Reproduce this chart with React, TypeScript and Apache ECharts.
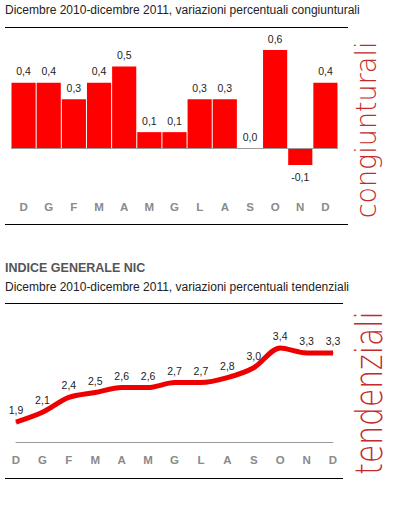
import React, { useEffect, useRef } from 'react';
import * as echarts from 'echarts';

const months = ['D', 'G', 'F', 'M', 'A', 'M', 'G', 'L', 'A', 'S', 'O', 'N', 'D'];
const congiunturali = [0.4, 0.4, 0.3, 0.4, 0.5, 0.1, 0.1, 0.3, 0.3, 0.0, 0.6, -0.1, 0.4];
const tendenziali = [1.9, 2.1, 2.4, 2.5, 2.6, 2.6, 2.7, 2.7, 2.8, 3.0, 3.4, 3.3, 3.3];
const title1 = 'Dicembre 2010-dicembre 2011, variazioni percentuali congiunturali';
const heading2 = 'INDICE GENERALE NIC';
const title2 = 'Dicembre 2010-dicembre 2011, variazioni percentuali tendenziali';
const sideLabel1 = 'congiunturali';
const sideLabel2 = 'tendenziali';

const fmt = (v: number) => v.toFixed(1).replace('.', ',');
const FONT = '"Liberation Sans", Arial, sans-serif';

export default function App() {
  const ref = useRef<HTMLDivElement>(null);
  useEffect(() => {
    document.body.style.margin = '0';
    const chart = echarts.init(ref.current!, null, { renderer: 'svg' });
    const hline = (y: number, x2: number) => ({
      type: 'line',
      shape: { x1: 5, y1: y, x2, y2: y },
      style: { stroke: '#000', lineWidth: 1 },
      silent: true,
    });
    const monthLabel = {
      color: '#8a8a8a',
      fontFamily: FONT,
      fontWeight: 'bold',
      fontSize: 11.5,
    };
    chart.setOption({
      animation: false,
      backgroundColor: '#fff',
      grid: [
        { left: 11, top: 50, width: 327, height: 115 },
        { left: 16, top: 343, width: 317, height: 99 },
      ],
      xAxis: [
        {
          gridIndex: 0,
          type: 'category',
          data: months,
          axisLine: { show: false },
          axisTick: { show: false },
          axisLabel: { ...monthLabel, margin: 36 },
        },
        {
          gridIndex: 1,
          type: 'category',
          data: months,
          boundaryGap: false,
          axisLine: { show: true, lineStyle: { color: '#9a9a9a', width: 1 } },
          axisTick: { show: false },
          axisLabel: { ...monthLabel, margin: 12 },
        },
      ],
      yAxis: [
        { gridIndex: 0, type: 'value', min: -0.1, max: 0.6, show: false, splitLine: { show: false } },
        { gridIndex: 1, type: 'value', min: 1.5, max: 3.5, show: false, splitLine: { show: false } },
      ],
      series: [
        {
          type: 'bar',
          xAxisIndex: 0,
          yAxisIndex: 0,
          barCategoryGap: '4%',
          itemStyle: { color: '#ff0000' },
          data: congiunturali.map((v) =>
            v < 0 ? { value: v, label: { position: 'bottom' } } : v
          ),
          label: {
            show: true,
            position: 'top',
            distance: 6,
            color: '#222',
            fontFamily: FONT,
            fontSize: 10.5,
            formatter: (p: any) => fmt(p.value),
          },
          markLine: {
            silent: true,
            symbol: 'none',
            label: { show: false },
            lineStyle: { color: '#9a9a9a', type: 'solid', width: 1 },
            data: [{ yAxis: 0 }],
          },
        },
        {
          type: 'line',
          xAxisIndex: 1,
          yAxisIndex: 1,
          smooth: 0.3,
          symbol: 'circle',
          symbolSize: 1,
          showSymbol: true,
          itemStyle: { color: '#ee0000' },
          lineStyle: { color: '#ee0000', width: 5 },
          data: tendenziali,
          label: {
            show: true,
            position: 'top',
            distance: 6,
            color: '#222',
            fontFamily: FONT,
            fontSize: 10.5,
            formatter: (p: any) => fmt(p.value),
          },
        },
      ],
      graphic: [
        {
          type: 'text',
          x: 5,
          y: 10,
          style: {
            text: title1,
            fontFamily: FONT,
            fontSize: 12,
            fill: '#222',
            textVerticalAlign: 'middle',
          },
        },
        hline(27.5, 348),
        hline(224.5, 348),
        {
          type: 'text',
          x: 366,
          y: 130,
          rotation: Math.PI / 2,
          scaleX: 1.08,
          scaleY: 1.1,
          style: {
            text: sideLabel1,
            fontFamily: '"DejaVu Sans", sans-serif',
            fontWeight: 200,
            fontSize: 25,
            fill: '#c42a2a',
            textAlign: 'center',
            textVerticalAlign: 'middle',
          },
        },
        {
          type: 'text',
          x: 5,
          y: 268,
          style: {
            text: heading2,
            fontFamily: FONT,
            fontWeight: 'bold',
            fontSize: 12.5,
            fill: '#555',
            textVerticalAlign: 'middle',
          },
        },
        {
          type: 'text',
          x: 5,
          y: 287,
          style: {
            text: title2,
            fontFamily: FONT,
            fontSize: 12,
            fill: '#222',
            textVerticalAlign: 'middle',
          },
        },
        hline(303.5, 343),
        hline(478.5, 343),
        {
          type: 'text',
          x: 369,
          y: 393,
          rotation: Math.PI / 2,
          scaleX: 1.19,
          scaleY: 1.5,
          style: {
            text: sideLabel2,
            fontFamily: '"DejaVu Sans", sans-serif',
            fontWeight: 200,
            fontSize: 25,
            fill: '#c42a2a',
            textAlign: 'center',
            textVerticalAlign: 'middle',
          },
        },
      ],
    });
    return () => chart.dispose();
  }, []);
  return <div ref={ref} style={{ width: 412, height: 508 }} />;
}
